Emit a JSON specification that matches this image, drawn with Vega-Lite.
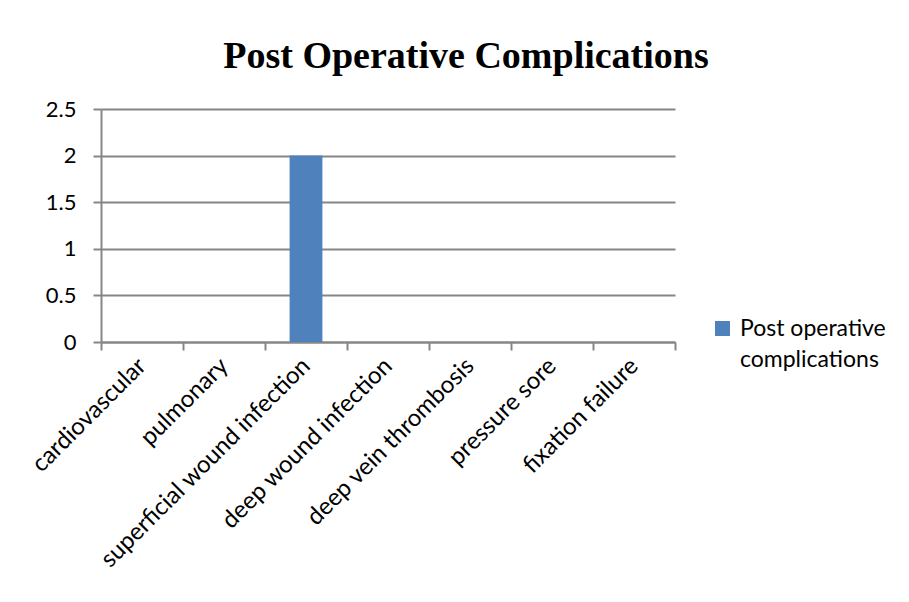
{
  "$schema": "https://vega.github.io/schema/vega-lite/v6.json",
  "width": 574,
  "height": 233,
  "autosize": {"type": "none"},
  "padding": {"left": 101, "top": 109, "right": 234, "bottom": 260},
  "background": "white",
  "title": {
    "text": "Post Operative Complications",
    "font": "Liberation Serif",
    "fontSize": 38,
    "fontWeight": "bold",
    "color": "black",
    "anchor": "middle",
    "frame": "group",
    "dx": 78,
    "offset": 22
  },
  "data": {
    "values": [
      {"category": "cardiovascular", "value": 0, "series": "Post operative complications"},
      {"category": "pulmonary", "value": 0, "series": "Post operative complications"},
      {"category": "superficial wound infection", "value": 2, "series": "Post operative complications"},
      {"category": "deep wound infection", "value": 0, "series": "Post operative complications"},
      {"category": "deep vein thrombosis", "value": 0, "series": "Post operative complications"},
      {"category": "pressure  sore", "value": 0, "series": "Post operative complications"},
      {"category": "fixation failure", "value": 0, "series": "Post operative complications"}
    ]
  },
  "mark": {"type": "bar", "width": {"band": 0.4}},
  "encoding": {
    "x": {
      "field": "category",
      "type": "nominal",
      "sort": null,
      "scale": {"paddingInner": 0, "paddingOuter": 0},
      "axis": {
        "title": null,
        "labelAngle": -45,
        "labelAlign": "right",
        "labelBaseline": "middle",
        "labelFont": "Lato",
        "labelFontSize": 24,
        "labelColor": "black",
        "labelPadding": 12,
        "labelLimit": 400,
        "labelOverlap": false,
        "tickBand": "extent",
        "tickSize": 8,
        "tickColor": "#868686",
        "tickWidth": 2,
        "domainColor": "#868686",
        "domainWidth": 2,
        "grid": false
      }
    },
    "y": {
      "field": "value",
      "type": "quantitative",
      "scale": {"domain": [0, 2.5], "nice": false},
      "axis": {
        "title": null,
        "values": [0, 0.5, 1, 1.5, 2, 2.5],
        "format": "~g",
        "labelFont": "Lato",
        "labelFontSize": 22,
        "labelColor": "black",
        "labelPadding": 17,
        "tickSize": 8,
        "tickColor": "#868686",
        "tickWidth": 2,
        "domainColor": "#868686",
        "domainWidth": 2,
        "grid": true,
        "gridColor": "#868686",
        "gridWidth": 2
      }
    },
    "color": {
      "field": "series",
      "type": "nominal",
      "scale": {"range": ["#4F81BD"]},
      "legend": {
        "title": null,
        "orient": "none",
        "legendX": 610,
        "legendY": 208,
        "symbolType": "square",
        "symbolSize": 225,
        "symbolStrokeWidth": 0,
        "labelFont": "Lato",
        "labelFontSize": 23,
        "labelColor": "black",
        "labelLimit": 300,
        "labelOffset": 6,
        "labelExpr": "['Post operative', 'complications']"
      }
    }
  },
  "config": {
    "view": {"stroke": null},
    "style": {"guide-label": {"lineHeight": 31}}
  }
}
